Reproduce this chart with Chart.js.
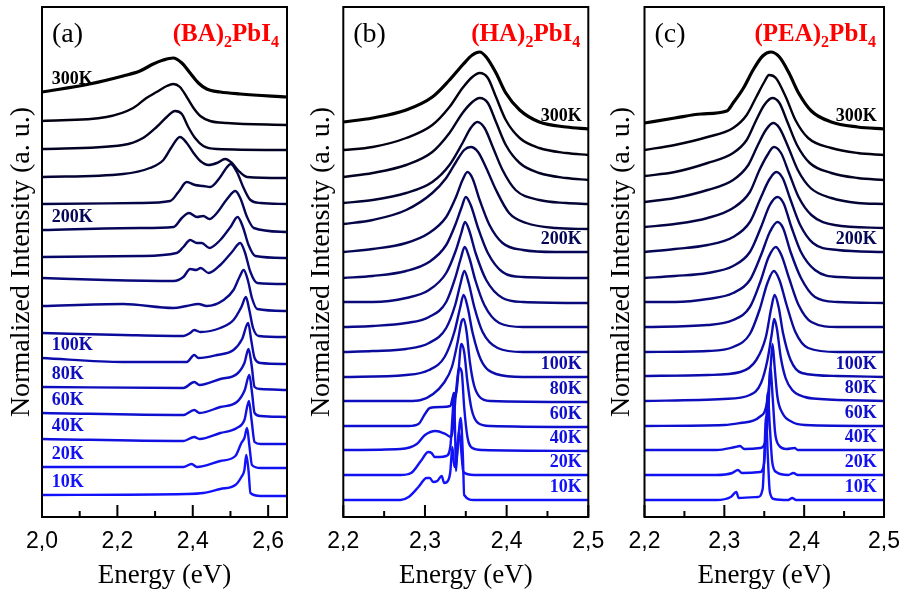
<!DOCTYPE html>
<html>
<head>
<meta charset="utf-8">
<script src="https://cdn.jsdelivr.net/npm/chart.js@4.4.1/dist/chart.umd.min.js"></script>
<style>
  body { margin: 0; background: #fff; }
  #wrap { position: relative; width: 911px; height: 594px; overflow: hidden; }
  canvas { position: absolute; top: 0; }
</style>
</head>
<body>
<div id="wrap">
  <canvas id="panelA" width="300" height="594" style="left:0"></canvas>
  <canvas id="panelB" width="320" height="594" style="left:300px"></canvas>
  <canvas id="panelC" width="311" height="594" style="left:600px"></canvas>
</div>
<script>
// temperatures, top curve first
const temps = [300, 280, 260, 240, 220, 200, 180, 160, 140, 120, 100, 80, 60, 40, 20, 10];
const labelledTemps = [300, 200, 100, 80, 60, 40, 20, 10];

const ticksA = [2.0, 2.2, 2.4, 2.6];
const minorTicksA = [2.1, 2.3, 2.5];
const ticksBC = [2.2, 2.3, 2.4, 2.5];
const minorTicksBC = [2.25, 2.35, 2.45];

// stacked PL spectra, [energy (eV), offset intensity]
const spectraBA = [
  [[2.0,42.5],[2.126,43.3],[2.215,44.1],[2.26,44.6],[2.295,45.3],[2.322,45.7],[2.348,45.9],[2.371,45.4],[2.393,44.4],[2.415,43.4],[2.437,42.8],[2.473,42.5],[2.526,42.3],[2.65,42.0]],
  [[2.0,39.6],[2.171,40.0],[2.242,40.9],[2.277,41.9],[2.304,42.5],[2.331,43.1],[2.348,43.3],[2.366,43.0],[2.384,42.0],[2.402,40.9],[2.42,40.1],[2.446,39.6],[2.491,39.4],[2.65,39.2]],
  [[2.0,36.8],[2.215,37.2],[2.268,37.9],[2.304,39.0],[2.331,40.0],[2.353,40.6],[2.371,40.3],[2.388,39.0],[2.406,37.9],[2.428,37.1],[2.464,36.8],[2.65,36.7]],
  [[2.0,34.0],[2.215,34.3],[2.286,34.9],[2.322,35.7],[2.344,37.0],[2.366,38.0],[2.384,37.4],[2.402,36.4],[2.42,35.6],[2.442,35.2],[2.464,35.4],[2.486,35.8],[2.504,35.4],[2.522,34.6],[2.544,34.0],[2.65,33.9]],
  [[2.0,31.3],[2.26,31.4],[2.34,31.6],[2.362,32.5],[2.384,33.5],[2.406,33.2],[2.428,33.1],[2.446,33.0],[2.473,34.0],[2.491,35.0],[2.501,35.3],[2.517,34.5],[2.535,32.9],[2.553,31.7],[2.58,31.4],[2.65,31.3]],
  [[2.0,28.7],[2.26,28.9],[2.349,29.0],[2.371,29.9],[2.39,30.4],[2.411,30.0],[2.428,30.1],[2.444,29.8],[2.464,30.4],[2.491,31.8],[2.513,32.6],[2.526,31.9],[2.544,30.0],[2.562,28.9],[2.65,28.5]],
  [[2.0,26.0],[2.26,26.1],[2.357,26.4],[2.375,27.0],[2.393,27.7],[2.411,27.4],[2.424,27.4],[2.444,26.9],[2.473,27.7],[2.5,29.0],[2.519,30.0],[2.533,29.0],[2.548,27.2],[2.566,26.1],[2.65,25.9]],
  [[2.0,23.9],[2.171,23.7],[2.349,23.6],[2.375,24.0],[2.393,24.8],[2.409,24.7],[2.421,24.9],[2.442,24.4],[2.473,25.2],[2.504,26.5],[2.526,27.4],[2.538,26.5],[2.553,24.5],[2.571,23.4],[2.65,23.3]],
  [[2.0,21.1],[2.215,21.3],[2.349,20.9],[2.384,21.1],[2.415,21.3],[2.437,21.1],[2.482,21.7],[2.508,22.7],[2.524,24.0],[2.535,24.7],[2.546,23.7],[2.557,21.9],[2.571,20.8],[2.65,20.6]],
  [[2.0,18.4],[2.215,18.2],[2.375,18.1],[2.393,18.4],[2.404,18.7],[2.42,18.5],[2.473,18.9],[2.508,19.7],[2.529,21.0],[2.541,22.0],[2.55,20.7],[2.56,18.9],[2.575,18.1],[2.65,18.0]],
  [[2.0,15.9],[2.215,15.5],[2.384,15.5],[2.404,16.2],[2.415,15.9],[2.464,16.2],[2.508,16.7],[2.531,17.8],[2.547,19.4],[2.555,17.7],[2.564,15.9],[2.58,15.4],[2.65,15.3]],
  [[2.0,13.0],[2.375,12.9],[2.404,13.5],[2.418,13.2],[2.473,13.8],[2.517,14.3],[2.537,15.4],[2.548,16.8],[2.556,15.2],[2.564,13.0],[2.58,12.8],[2.65,12.7]],
  [[2.0,10.4],[2.375,10.2],[2.404,10.7],[2.418,10.4],[2.473,11.0],[2.517,11.5],[2.538,12.7],[2.55,14.2],[2.557,12.5],[2.564,10.4],[2.58,10.1],[2.65,10.0]],
  [[2.0,7.8],[2.375,7.6],[2.404,8.0],[2.418,7.8],[2.473,8.4],[2.517,8.9],[2.537,9.7],[2.549,11.6],[2.556,9.7],[2.564,7.5],[2.58,7.3],[2.65,7.3]],
  [[2.0,5.0],[2.375,5.0],[2.397,5.3],[2.411,5.0],[2.473,5.6],[2.513,6.1],[2.529,7.4],[2.537,7.9],[2.544,8.9],[2.55,7.2],[2.557,5.2],[2.58,4.9],[2.65,4.9]],
  [[2.0,2.2],[2.384,2.3],[2.428,2.4],[2.473,2.8],[2.513,3.2],[2.529,4.0],[2.537,4.7],[2.542,6.2],[2.548,4.6],[2.553,2.4],[2.58,2.1],[2.65,2.1]]
];

const spectraHA = [
  [[2.2,39.5],[2.236,39.9],[2.277,40.7],[2.309,42.0],[2.33,43.7],[2.346,45.2],[2.358,46.2],[2.367,46.5],[2.375,46.0],[2.387,44.4],[2.399,42.4],[2.416,40.7],[2.44,39.5],[2.473,39.0],[2.5,38.8]],
  [[2.2,36.7],[2.236,37.0],[2.277,37.9],[2.309,39.2],[2.33,41.0],[2.346,42.9],[2.358,44.0],[2.367,44.4],[2.377,43.9],[2.387,42.0],[2.399,39.7],[2.416,37.9],[2.44,36.9],[2.473,36.4],[2.5,36.2]],
  [[2.2,34.0],[2.236,34.4],[2.277,35.2],[2.309,36.5],[2.33,38.4],[2.346,40.4],[2.358,41.5],[2.367,41.9],[2.377,41.4],[2.387,39.5],[2.399,37.2],[2.416,35.4],[2.44,34.4],[2.473,33.9],[2.5,33.7]],
  [[2.2,31.4],[2.236,31.7],[2.277,32.4],[2.309,33.5],[2.33,35.2],[2.346,37.4],[2.356,38.9],[2.364,39.5],[2.373,38.9],[2.383,37.0],[2.395,34.7],[2.411,32.7],[2.44,31.7],[2.473,31.4],[2.5,31.3]],
  [[2.2,29.3],[2.236,29.7],[2.277,30.7],[2.309,32.4],[2.326,33.9],[2.338,35.5],[2.348,36.7],[2.356,37.0],[2.365,36.5],[2.375,34.9],[2.387,32.7],[2.403,30.4],[2.424,29.4],[2.46,28.9],[2.5,28.8]],
  [[2.2,26.5],[2.236,26.8],[2.277,27.4],[2.305,28.4],[2.326,30.0],[2.338,32.0],[2.346,33.7],[2.352,34.5],[2.358,33.9],[2.367,31.7],[2.379,29.2],[2.395,27.4],[2.42,26.7],[2.46,26.5],[2.5,26.5]],
  [[2.2,23.9],[2.236,24.1],[2.277,24.6],[2.305,25.5],[2.326,27.2],[2.338,29.4],[2.345,31.0],[2.35,32.0],[2.356,31.2],[2.365,28.9],[2.377,26.4],[2.395,24.5],[2.42,24.0],[2.5,23.9]],
  [[2.2,21.5],[2.236,21.5],[2.277,21.9],[2.305,22.7],[2.326,24.4],[2.338,26.7],[2.3445,28.4],[2.349,29.5],[2.354,28.7],[2.362,26.4],[2.375,23.7],[2.395,21.9],[2.42,21.5],[2.5,21.4]],
  [[2.2,19.0],[2.236,19.1],[2.277,19.4],[2.305,20.0],[2.326,21.5],[2.337,23.9],[2.344,25.9],[2.3486,27.0],[2.354,26.0],[2.3616,23.7],[2.3727,21.2],[2.391,19.4],[2.42,19.0],[2.5,19.0]],
  [[2.2,16.5],[2.236,16.6],[2.277,16.8],[2.305,17.4],[2.326,18.9],[2.337,21.2],[2.3437,23.4],[2.3482,24.6],[2.3535,23.4],[2.3604,21.0],[2.3706,18.5],[2.389,16.9],[2.42,16.5],[2.5,16.5]],
  [[2.2,14.0],[2.277,14.2],[2.305,14.7],[2.324,16.0],[2.336,18.5],[2.343,20.9],[2.3473,22.2],[2.3522,21.0],[2.3584,18.4],[2.3686,15.7],[2.387,14.3],[2.42,14.0],[2.5,14.0]],
  [[2.2,11.6],[2.28,11.6],[2.295,11.7],[2.31,12.3],[2.323,13.4],[2.333,15.0],[2.34,17.5],[2.345,19.6],[2.3475,19.8],[2.351,18.5],[2.355,15.5],[2.36,13.2],[2.367,12.0],[2.38,11.6],[2.5,11.5]],
  [[2.2,9.1],[2.28,9.1],[2.292,9.3],[2.3,10.3],[2.306,10.9],[2.32,11.0],[2.331,11.1],[2.334,12.0],[2.3355,12.4],[2.3375,12.0],[2.341,14.5],[2.3445,17.3],[2.348,16.5],[2.352,13.5],[2.357,10.8],[2.365,9.4],[2.38,9.1],[2.5,9.0]],
  [[2.2,6.7],[2.27,6.8],[2.29,7.3],[2.3,8.2],[2.313,8.6],[2.325,8.3],[2.332,8.0],[2.335,9.5],[2.338,12.5],[2.342,14.9],[2.345,14.5],[2.348,11.0],[2.352,8.0],[2.358,6.9],[2.37,6.7],[2.5,6.6]],
  [[2.2,4.2],[2.27,4.2],[2.283,4.4],[2.295,5.6],[2.304,6.5],[2.308,6.4],[2.312,6.0],[2.318,6.0],[2.326,6.1],[2.331,7.0],[2.334,10.5],[2.3355,12.4],[2.337,8.0],[2.338,4.6],[2.3395,6.5],[2.3415,8.6],[2.344,7.0],[2.347,4.5],[2.36,4.2],[2.5,4.2]],
  [[2.2,1.7],[2.27,1.7],[2.28,2.0],[2.292,3.0],[2.302,3.9],[2.306,3.9],[2.31,3.5],[2.315,3.6],[2.3205,4.1],[2.3235,3.4],[2.328,3.6],[2.331,4.5],[2.3335,7.0],[2.336,5.0],[2.339,6.0],[2.3437,9.9],[2.3465,6.0],[2.348,2.2],[2.36,1.7],[2.5,1.7]]
];

const spectraPEA = [
  [[2.2,39.4],[2.238,39.9],[2.271,40.3],[2.303,40.6],[2.311,41.4],[2.324,42.9],[2.336,44.7],[2.348,46.1],[2.358,46.5],[2.369,46.0],[2.381,44.4],[2.393,42.4],[2.409,40.6],[2.434,39.5],[2.467,39.0],[2.5,38.8]],
  [[2.2,36.7],[2.238,37.2],[2.279,38.0],[2.311,38.9],[2.328,40.2],[2.34,42.0],[2.35,43.5],[2.356,44.2],[2.3645,43.9],[2.377,42.0],[2.389,39.7],[2.405,37.9],[2.434,36.9],[2.467,36.4],[2.5,36.2]],
  [[2.2,34.1],[2.238,34.5],[2.279,35.4],[2.311,36.4],[2.328,37.7],[2.34,39.7],[2.35,41.2],[2.36,41.9],[2.369,41.4],[2.379,39.5],[2.391,37.2],[2.407,35.4],[2.434,34.4],[2.467,33.9],[2.5,33.7]],
  [[2.2,31.5],[2.238,31.9],[2.279,32.7],[2.311,33.7],[2.33,35.2],[2.342,37.2],[2.352,38.7],[2.361,39.4],[2.369,38.9],[2.38,37.0],[2.392,34.7],[2.408,32.9],[2.434,31.9],[2.467,31.4],[2.5,31.3]],
  [[2.2,29.0],[2.238,29.3],[2.279,29.9],[2.311,30.9],[2.332,32.5],[2.344,34.7],[2.354,36.2],[2.362,37.0],[2.371,36.4],[2.381,34.4],[2.393,32.0],[2.409,30.2],[2.438,29.2],[2.5,28.9]],
  [[2.2,26.5],[2.238,26.8],[2.279,27.2],[2.311,28.0],[2.332,29.5],[2.346,32.0],[2.356,33.7],[2.365,34.5],[2.373,33.9],[2.383,31.7],[2.395,29.2],[2.411,27.4],[2.442,26.7],[2.5,26.5]],
  [[2.2,23.9],[2.238,24.1],[2.279,24.4],[2.311,25.1],[2.332,26.5],[2.346,29.0],[2.357,31.2],[2.3665,32.0],[2.374,31.4],[2.384,29.0],[2.396,26.5],[2.4135,24.7],[2.442,24.0],[2.5,23.9]],
  [[2.2,21.5],[2.238,21.5],[2.279,21.8],[2.311,22.4],[2.332,23.7],[2.346,26.2],[2.357,28.5],[2.3665,29.5],[2.3735,28.9],[2.383,26.5],[2.396,23.9],[2.4135,22.0],[2.442,21.5],[2.5,21.4]],
  [[2.2,19.0],[2.279,19.2],[2.311,19.7],[2.332,21.0],[2.345,23.5],[2.3555,26.0],[2.3645,27.0],[2.3714,26.2],[2.381,23.9],[2.393,21.2],[2.409,19.5],[2.442,19.0],[2.5,19.0]],
  [[2.2,16.5],[2.279,16.6],[2.311,17.0],[2.332,18.3],[2.344,20.7],[2.354,23.4],[2.362,24.6],[2.369,23.7],[2.378,21.2],[2.389,18.5],[2.405,16.9],[2.442,16.5],[2.5,16.5]],
  [[2.2,14.1],[2.279,14.2],[2.32,14.5],[2.34,15.7],[2.352,18.0],[2.359,21.0],[2.363,22.2],[2.368,21.0],[2.3735,18.4],[2.383,15.7],[2.397,14.4],[2.442,14.1],[2.5,14.0]],
  [[2.2,11.6],[2.299,11.8],[2.332,12.2],[2.346,13.4],[2.354,15.7],[2.3596,18.4],[2.3624,19.8],[2.3657,18.9],[2.3706,16.0],[2.3767,13.9],[2.385,12.7],[2.401,12.0],[2.42,11.8],[2.5,11.6]],
  [[2.2,9.1],[2.3,9.2],[2.32,9.4],[2.344,10.0],[2.354,11.7],[2.358,15.0],[2.3604,17.3],[2.363,15.0],[2.3665,12.0],[2.3727,10.4],[2.385,9.5],[2.401,9.2],[2.5,9.1]],
  [[2.2,6.7],[2.29,6.7],[2.3135,7.0],[2.3196,7.1],[2.325,6.8],[2.345,6.9],[2.352,7.8],[2.355,10.5],[2.3576,14.9],[2.3605,12.0],[2.3635,8.5],[2.368,7.2],[2.378,6.8],[2.388,6.9],[2.392,6.7],[2.5,6.7]],
  [[2.2,4.2],[2.29,4.2],[2.31,4.4],[2.317,4.7],[2.322,4.4],[2.345,4.5],[2.35,5.5],[2.352,8.5],[2.3543,12.4],[2.357,9.0],[2.36,5.5],[2.365,4.5],[2.38,4.2],[2.3865,4.4],[2.392,4.2],[2.5,4.2]],
  [[2.2,1.7],[2.29,1.7],[2.308,2.0],[2.315,2.5],[2.318,1.9],[2.342,2.0],[2.348,2.8],[2.35,6.0],[2.3522,10.0],[2.3545,6.0],[2.357,2.5],[2.362,1.8],[2.38,1.7],[2.385,1.9],[2.39,1.7],[2.5,1.7]]
];

// black at 300K fading to blue at 10K
function tempColour(t) {
  const f = (300 - t) / 290;
  return `rgb(${Math.round(18 * f)}, ${Math.round(18 * f)}, ${Math.round(250 * f)})`;
}

function commaTick(v) {
  return v.toFixed(1).replace('.', ',');
}

function makePanel(id, cfg) {
  const overlay = {
    id: 'overlay',
    afterDatasetsDraw(chart) {
      const { ctx, chartArea: a, scales: { x, y } } = chart;
      ctx.save();

      // frame + inward ticks on the energy axis
      ctx.strokeStyle = '#000';
      ctx.lineWidth = 2;
      ctx.strokeRect(a.left, a.top, a.right - a.left, a.bottom - a.top);
      ctx.beginPath();
      cfg.ticks.forEach(v => {
        const px = x.getPixelForValue(v);
        ctx.moveTo(px, a.bottom);
        ctx.lineTo(px, a.bottom - 12);
      });
      cfg.minor.forEach(v => {
        const px = x.getPixelForValue(v);
        ctx.moveTo(px, a.bottom);
        ctx.lineTo(px, a.bottom - 6);
      });
      ctx.stroke();

      // temperature labels sit just above each curve's flat end
      ctx.font = 'bold 18px "Liberation Serif"';
      ctx.textBaseline = 'middle';
      ctx.textAlign = cfg.side;
      labelledTemps.forEach(t => {
        const pts = cfg.spectra[temps.indexOf(t)];
        const base = cfg.side === 'left' ? pts[0][1] : pts[pts.length - 1][1];
        ctx.fillStyle = tempColour(t);
        ctx.fillText(t + 'K', x.getPixelForValue(cfg.labelE), y.getPixelForValue(base + 1.3));
      });

      // panel letter
      ctx.fillStyle = '#000';
      ctx.font = '28px "Liberation Serif"';
      ctx.textAlign = 'left';
      ctx.textBaseline = 'alphabetic';
      ctx.fillText(cfg.letter, a.left + 10, 42);

      // compound name with subscripts, right aligned
      const big = 'bold 25px "Liberation Serif"';
      const small = 'bold 16px "Liberation Serif"';
      let total = 0;
      cfg.formula.forEach((s, i) => {
        ctx.font = i % 2 ? small : big;
        total += ctx.measureText(s).width;
      });
      let cx = a.right - 8 - total;
      ctx.fillStyle = '#ff0000';
      cfg.formula.forEach((s, i) => {
        ctx.font = i % 2 ? small : big;
        ctx.fillText(s, cx, i % 2 ? 47 : 41);
        cx += ctx.measureText(s).width;
      });

      ctx.restore();
    }
  };

  return new Chart(document.getElementById(id), {
    type: 'line',
    data: {
      datasets: cfg.spectra.map((pts, i) => ({
        data: pts.map(p => ({ x: p[0], y: p[1] })),
        borderColor: tempColour(temps[i]),
        borderWidth: i === 0 ? 3.2 : 2.4,
        pointRadius: 0,
        fill: false,
        cubicInterpolationMode: 'monotone'
      }))
    },
    options: {
      responsive: false,
      animation: false,
      layout: { padding: { top: 7, right: cfg.padRight, bottom: 0, left: 0 } },
      plugins: { legend: { display: false }, tooltip: { enabled: false } },
      scales: {
        x: {
          type: 'linear',
          min: cfg.min,
          max: cfg.max,
          grid: { display: false, drawTicks: false, tickLength: 0 },
          border: { display: false },
          afterBuildTicks: s => { s.ticks = cfg.ticks.map(value => ({ value })); },
          ticks: {
            callback: v => commaTick(v),
            color: '#000',
            font: { family: 'Liberation Sans', size: 23 },
            padding: 11,
            maxRotation: 0,
            autoSkip: false
          },
          title: {
            display: true,
            text: 'Energy (eV)',
            color: '#000',
            font: { family: 'Liberation Serif', size: 27 },
            padding: { top: 0, bottom: 2 }
          },
          afterFit: s => { s.height = 77; }
        },
        y: {
          min: 0,
          max: 51,
          grid: { display: false, drawTicks: false },
          border: { display: false },
          ticks: { display: false },
          title: {
            display: true,
            text: 'Normalized Intensity (a. u.)',
            color: '#000',
            font: { family: 'Liberation Serif', size: 28 },
            padding: { top: 5, bottom: 0 }
          },
          afterFit: s => { s.width = cfg.axisWidth; }
        }
      }
    },
    plugins: [overlay]
  });
}

makePanel('panelA', {
  spectra: spectraBA, min: 2.0, max: 2.65, ticks: ticksA, minor: minorTicksA,
  axisWidth: 42, padRight: 13, side: 'left', labelE: 2.026,
  letter: '(a)', formula: ['(BA)', '2', 'PbI', '4']
});
makePanel('panelB', {
  spectra: spectraHA, min: 2.2, max: 2.5, ticks: ticksBC, minor: minorTicksBC,
  axisWidth: 43.3, padRight: 31.7, side: 'right', labelE: 2.492,
  letter: '(b)', formula: ['(HA)', '2', 'PbI', '4']
});
makePanel('panelC', {
  spectra: spectraPEA, min: 2.2, max: 2.5, ticks: ticksBC, minor: minorTicksBC,
  axisWidth: 44.5, padRight: 21.5, side: 'right', labelE: 2.491,
  letter: '(c)', formula: ['(PEA)', '2', 'PbI', '4']
});
</script>
</body>
</html>
